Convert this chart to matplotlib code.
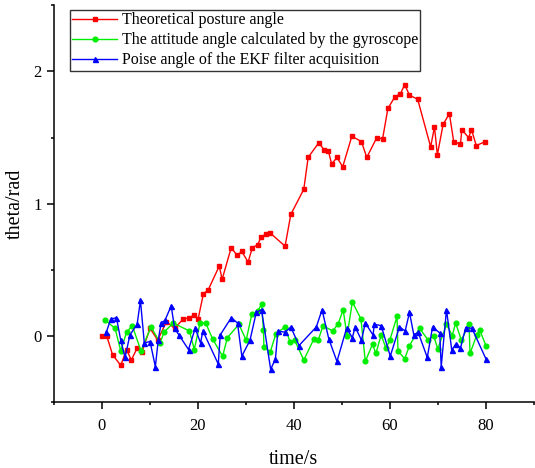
import matplotlib
matplotlib.use("Agg")
import matplotlib.pyplot as plt
from matplotlib.ticker import MultipleLocator

# datos
t_teo = [0, 1.1, 2.3, 4.0, 5.2, 6.2, 7.4, 8.4, 10.1, 11.7, 13.5, 15.2, 17.0, 18.3, 19.3, 20.1,
         21.2, 22.2, 24.5, 25.1, 27.0, 28.2, 29.2, 30.5, 31.4, 32.5, 33.2, 34.2, 35.1, 38.2,
         39.4, 42.1, 43.0, 45.2, 46.3, 47.2, 47.9, 49.0, 50.2, 52.1, 54.1, 55.2, 57.3, 58.5,
         59.6, 61.1, 62.2, 63.1, 64.1, 65.8, 68.5, 69.3, 69.9, 71.1, 72.4, 73.3, 74.7, 75.0,
         76.4, 77.0, 78.0, 79.9]
y_teo = [0, 0, -0.14, -0.22, -0.10, -0.18, -0.09, -0.12, 0.06, -0.03, 0.11, 0.06, 0.13, 0.14,
         0.16, 0.13, 0.32, 0.35, 0.53, 0.43, 0.67, 0.61, 0.64, 0.56, 0.67, 0.69, 0.75, 0.77,
         0.78, 0.68, 0.92, 1.11, 1.35, 1.46, 1.41, 1.40, 1.30, 1.35, 1.28, 1.51, 1.47, 1.35,
         1.50, 1.49, 1.72, 1.81, 1.83, 1.90, 1.82, 1.79, 1.43, 1.58, 1.37, 1.60, 1.68, 1.47,
         1.45, 1.56, 1.50, 1.56, 1.44, 1.47]

t_giro = [0.8, 2.8, 4.0, 5.2, 6.4, 8.2, 10.3, 12.2, 13.0, 14.9, 18.3, 19.3, 20.5, 21.7, 23.1,
          25.2, 26.2, 28.6, 30.1, 31.3, 32.5, 33.3, 33.7, 33.8, 35.1, 36.3, 38.2, 39.2, 40.2,
          42.1, 44.2, 45.1, 46.1, 48.1, 49.2, 50.3, 51.1, 52.2, 54.0, 54.9, 56.4, 57.1, 58.2,
          59.2, 60.0, 61.5, 61.7, 63.1, 64.1, 66.2, 68.0, 69.1, 70.0, 71.8, 73.0, 73.7, 74.9,
          76.5, 76.7, 78.1, 78.7, 80.0]
y_giro = [0.12, 0.06, -0.11, 0.03, 0.08, -0.11, 0.07, -0.05, 0.03, 0.10, 0.04, -0.10, 0.10,
          0.10, -0.02, -0.15, -0.01, 0.09, -0.03, 0.17, 0.19, 0.24, 0.05, -0.08, -0.12, 0.02,
          0.07, -0.04, -0.03, -0.18, -0.02, -0.03, 0.08, 0.04, 0.09, 0.20, 0.00, 0.26, 0.13,
          -0.19, -0.06, -0.13, 0.01, -0.09, -0.03, 0.15, -0.11, -0.17, -0.07, 0.06, -0.03,
          0.005, -0.095, 0.09, 0.005, 0.10, -0.03, 0.09, -0.13, 0.01, 0.05, -0.07]

t_ekf = [1.0, 1.9, 3.1, 4.0, 4.9, 5.9, 7.4, 8.1, 8.9, 10.1, 11.2, 11.8, 12.4, 13.2, 14.5, 15.2,
         16.1, 18.1, 19.5, 20.6, 21.1, 24.3, 24.7, 27.0, 28.3, 29.2, 30.9, 32.2, 33.3, 35.2,
         36.2, 36.7, 38.2, 39.4, 41.1, 44.7, 45.9, 47.3, 49.0, 51.0, 52.2, 52.8, 54.1, 54.9,
         56.5, 56.8, 58.2, 60.1, 62.0, 63.2, 64.1, 65.0, 65.9, 67.8, 68.9, 70.4, 70.7, 71.8,
         72.9, 73.7, 74.7, 75.8, 77.1, 80.0]
y_ekf = [0.03, 0.13, 0.14, -0.03, -0.16, 0.01, 0.09, 0.27, -0.05, -0.04, -0.23, -0.03, 0.10,
         0.12, 0.23, 0.06, 0.01, -0.10, 0.06, -0.05, 0.04, -0.21, 0.01, 0.14, 0.10, -0.15,
         -0.03, 0.18, 0.20, -0.25, -0.17, 0.04, 0.03, 0.07, -0.07, 0.07, 0.20, -0.02, -0.19,
         0.06, -0.01, 0.07, -0.03, 0.10, 0.01, 0.09, 0.08, -0.15, 0.07, 0.04, 0.18, 0.01,
         0.03, -0.16, 0.07, 0.025, -0.23, 0.20, -0.105, -0.06, -0.09, 0.065, 0.06, -0.17]

plt.rcParams["font.family"] = ["Liberation Serif", "DejaVu Serif"]

fig = plt.figure(figsize=(5.35, 4.68), dpi=100)
ax = fig.add_axes([0.1, 0.14, 0.898, 0.849])

ax.plot(t_teo, y_teo, color="red", linewidth=1, marker="s", markersize=3.2,
        label="Theoretical posture angle")
ax.plot(t_giro, y_giro, color="#00ee00", linewidth=1, marker="o", markersize=3.4,
        label="The attitude angle calculated by the gyroscope")
ax.plot(t_ekf, y_ekf, color="#0000ff", linewidth=1, marker="^", markersize=3.6,
        label="Poise angle of the EKF filter acquisition")

ax.set_xlim(-10, 90)
ax.set_ylim(-0.5, 2.5)
ax.xaxis.set_major_locator(MultipleLocator(20))
ax.xaxis.set_minor_locator(MultipleLocator(10))
ax.yaxis.set_major_locator(MultipleLocator(1))
ax.yaxis.set_minor_locator(MultipleLocator(0.5))
ax.tick_params(which="major", direction="out", length=5, width=1.1, labelsize=12)
ax.tick_params(axis="x", which="major", pad=6)
ax.tick_params(which="minor", direction="out", length=2.5, width=1.1)
for lado in ["left", "bottom"]:
    ax.spines[lado].set_linewidth(1.1)
ax.spines["top"].set_visible(False)
ax.spines["right"].set_visible(False)
ax.set_xlabel("time/s", fontsize=14.5, labelpad=12)
ax.set_ylabel("theta/rad", fontsize=14.5, labelpad=6)

leg = ax.legend(loc="upper left", bbox_to_anchor=(0.034, 0.988), fontsize=11.5, numpoints=1,
                fancybox=False, framealpha=1, edgecolor="#333333", handlelength=2.8,
                borderpad=0.15, labelspacing=0.25, handletextpad=0.3, borderaxespad=0)
leg.get_frame().set_linewidth(1)

plt.savefig("out.png", dpi=100)
plt.close()
